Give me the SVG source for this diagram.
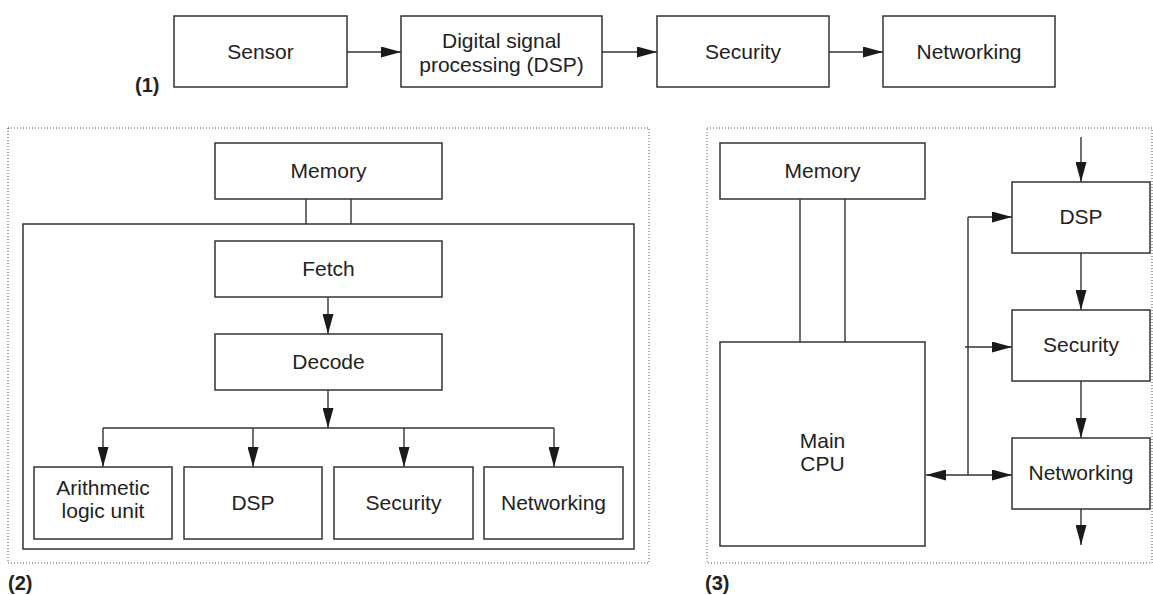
<svg xmlns="http://www.w3.org/2000/svg" width="1153" height="595" viewBox="0 0 1153 595">
<defs>
<style>
.box{fill:#fff;stroke:#333;stroke-width:1.5}
.ln{fill:none;stroke:#333;stroke-width:1.4}
.arr{fill:none;stroke:#333;stroke-width:1.4;marker-end:url(#ah)}
.dot{fill:none;stroke:#555;stroke-width:1;stroke-dasharray:1 2}
.t{font-family:"Liberation Sans",Arial,sans-serif;font-size:21px;fill:#222;text-anchor:middle}
.lbl{font-family:"Liberation Sans",Arial,sans-serif;font-size:20px;font-weight:bold;fill:#222}
</style>
<marker id="ah" viewBox="0 0 20 11" refX="20" refY="5.5" markerWidth="20" markerHeight="11" markerUnits="userSpaceOnUse" orient="auto-start-reverse">
<path d="M0,0 L20,5.5 L0,11 Z" fill="#1a1a1a"/>
</marker>
</defs>
<rect width="1153" height="595" fill="#fff"/>

<!-- panel frames -->
<rect class="dot" x="8" y="128" width="641" height="435"/>
<rect class="dot" x="707" y="128" width="445" height="435"/>
<text class="lbl" x="135" y="92">(1)</text>
<text class="lbl" x="8" y="590">(2)</text>
<text class="lbl" x="705" y="590">(3)</text>

<!-- connectors -->
<g id="connectors">
<path class="arr" d="M347,52 H401"/>
<path class="arr" d="M602,52 H657"/>
<path class="arr" d="M829,52 H883"/>
<path class="ln" d="M306,199 V224 M351,199 V224"/>
<path class="arr" d="M328,297 V334"/>
<path class="arr" d="M328,390 V428"/>
<path class="ln" d="M103,428 H554"/>
<path class="arr" d="M103,428 V467"/>
<path class="arr" d="M253,428 V467"/>
<path class="arr" d="M404,428 V467"/>
<path class="arr" d="M554,428 V467"/>
<path class="ln" d="M800,199 V342 M845,199 V342"/>
<path class="arr" d="M1081,137 V182"/>
<path class="arr" d="M1081,253 V310"/>
<path class="arr" d="M1081,381 V438"/>
<path class="arr" d="M1081,509 V545"/>
<path class="ln" d="M968,217 V475"/>
<path class="arr" d="M968,217 H1012"/>
<path class="arr" d="M965,347 H1012"/>
<path class="arr" d="M968,475 H1012"/>
<path class="arr" d="M968,475 H926"/>
</g>

<!-- panel 1 -->
<g id="p1-sensor"><rect class="box" x="174" y="16" width="173" height="71"/><text class="t" x="260.5" y="59">Sensor</text></g>
<g id="p1-dsp"><rect class="box" x="401" y="16" width="201" height="71"/><text class="t" x="501.5" y="48">Digital signal</text><text class="t" x="501.5" y="72">processing (DSP)</text></g>
<g id="p1-security"><rect class="box" x="657" y="16" width="172" height="71"/><text class="t" x="743" y="59">Security</text></g>
<g id="p1-networking"><rect class="box" x="883" y="16" width="172" height="71"/><text class="t" x="969" y="59">Networking</text></g>

<!-- panel 2 -->
<g id="p2-memory"><rect class="box" x="215" y="143" width="227" height="56"/><text class="t" x="328.5" y="178">Memory</text></g>
<g id="p2-cpu"><rect class="box" x="23" y="224" width="611" height="325" style="fill:none"/></g>
<g id="p2-fetch"><rect class="box" x="215" y="241" width="227" height="56"/><text class="t" x="328.5" y="276">Fetch</text></g>
<g id="p2-decode"><rect class="box" x="215" y="334" width="227" height="56"/><text class="t" x="328.5" y="369">Decode</text></g>
<g id="p2-alu"><rect class="box" x="34" y="467" width="138" height="72"/><text class="t" x="103" y="495">Arithmetic</text><text class="t" x="103" y="518">logic unit</text></g>
<g id="p2-dsp"><rect class="box" x="184" y="467" width="138" height="72"/><text class="t" x="253" y="510">DSP</text></g>
<g id="p2-security"><rect class="box" x="334" y="467" width="139" height="72"/><text class="t" x="403.5" y="510">Security</text></g>
<g id="p2-networking"><rect class="box" x="484" y="467" width="139" height="72"/><text class="t" x="553.5" y="510">Networking</text></g>

<!-- panel 3 -->
<g id="p3-memory"><rect class="box" x="720" y="143" width="205" height="56"/><text class="t" x="822.5" y="178">Memory</text></g>
<g id="p3-cpu"><rect class="box" x="720" y="342" width="205" height="204"/><text class="t" x="822.5" y="448">Main</text><text class="t" x="822.5" y="471">CPU</text></g>
<g id="p3-dsp"><rect class="box" x="1012" y="182" width="138" height="71"/><text class="t" x="1081" y="224">DSP</text></g>
<g id="p3-security"><rect class="box" x="1012" y="310" width="138" height="71"/><text class="t" x="1081" y="352">Security</text></g>
<g id="p3-networking"><rect class="box" x="1012" y="438" width="138" height="71"/><text class="t" x="1081" y="480">Networking</text></g>
</svg>
